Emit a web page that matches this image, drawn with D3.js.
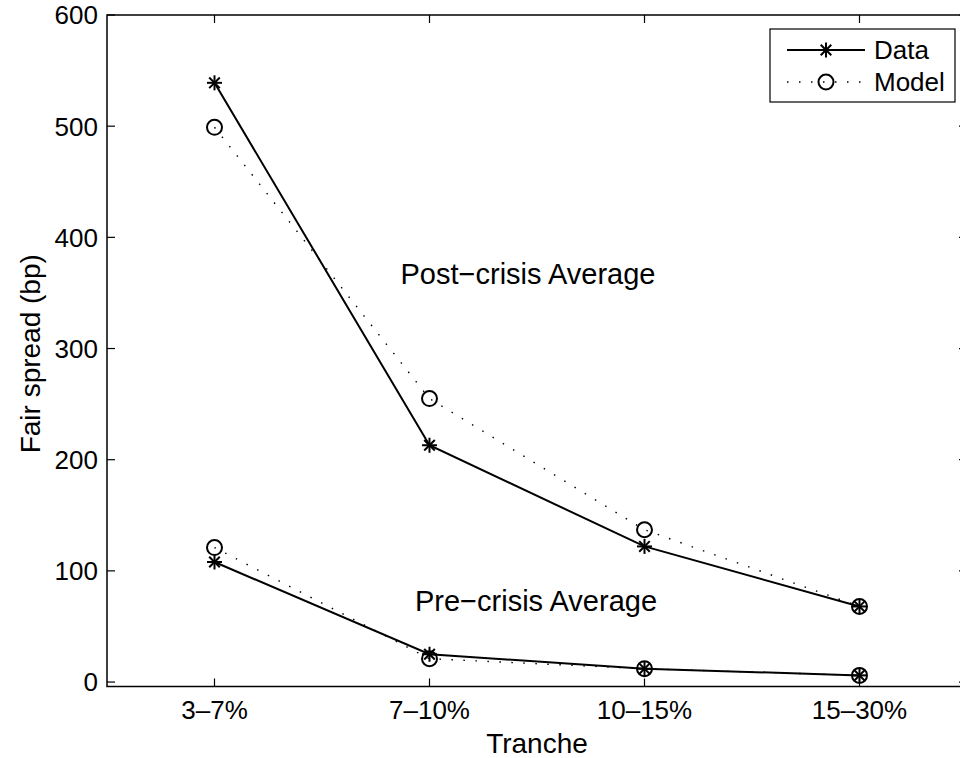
<!DOCTYPE html>
<html>
<head>
<meta charset="utf-8">
<script src="https://cdn.jsdelivr.net/npm/d3@7/dist/d3.min.js"></script>
<style>
  html, body { margin: 0; padding: 0; background: #fff; }
  svg { display: block; font-family: "Liberation Sans", Arial, Helvetica, sans-serif; }
</style>
</head>
<body>
<svg id="chart" width="960" height="758"></svg>
<script>
// Tranche categories and fair spreads (bp)
const tranches = ["3\u20137%", "7\u201310%", "10\u201315%", "15\u201330%"];
const postData  = [539, 213, 122, 68];
const postModel = [499, 255, 137, 68];
const preData   = [108, 25, 12, 6];
const preModel  = [121, 21, 12, 6];
const yTicks = [0, 100, 200, 300, 400, 500, 600];

const svg = d3.select("#chart");
const axL = 107, axR = 967, axT = 15, axB = 686.5;

const x = d3.scaleLinear().domain([0.5, 4.5]).range([axL, axR]);
const y = d3.scaleLinear().domain([-4, 600]).range([axB, axT]);
const tickFs = 26, labelFs = 28, noteFs = 29, legendFs = 26;

// axes box
svg.append("rect")
  .attr("x", axL).attr("y", axT)
  .attr("width", axR - axL).attr("height", axB - axT)
  .attr("fill", "none").attr("stroke", "#000").attr("stroke-width", 1.5);

// inward ticks on all four sides
const tickLen = 8;
const g = svg.append("g").attr("stroke", "#000").attr("stroke-width", 1.2);
tranches.forEach((t, i) => {
  const px = x(i + 1);
  g.append("line").attr("x1", px).attr("x2", px).attr("y1", axB).attr("y2", axB - tickLen);
  g.append("line").attr("x1", px).attr("x2", px).attr("y1", axT).attr("y2", axT + tickLen);
});
yTicks.forEach(v => {
  const py = y(v);
  g.append("line").attr("x1", axL).attr("x2", axL + tickLen).attr("y1", py).attr("y2", py);
  g.append("line").attr("x1", axR).attr("x2", axR - tickLen).attr("y1", py).attr("y2", py);
});

// tick labels
svg.append("g").selectAll("text").data(yTicks).join("text")
  .attr("x", axL - 9).attr("y", d => y(d)).attr("dy", "0.36em")
  .attr("text-anchor", "end").attr("font-size", tickFs).text(d => d);
svg.append("g").selectAll("text").data(tranches).join("text")
  .attr("x", (d, i) => x(i + 1)).attr("y", axB + 32)
  .attr("text-anchor", "middle").attr("font-size", tickFs).text(d => d);

// axis titles
svg.append("text").attr("x", x(2.5)).attr("y", 753)
  .attr("text-anchor", "middle").attr("font-size", labelFs).text("Tranche");
svg.append("text").attr("transform", `translate(40,${(axT + axB) / 2 + 3}) rotate(-90)`)
  .attr("text-anchor", "middle").attr("font-size", labelFs).text("Fair spread (bp)");

// series
const line = d3.line().x((d, i) => x(i + 1)).y(d => y(d));

function star(sel, cx, cy, r) {
  const s = sel.append("g").attr("stroke", "#000").attr("stroke-width", 2);
  [0, 45, 90, 135].forEach(a => {
    const rad = a * Math.PI / 180, dx = r * Math.cos(rad), dy = r * Math.sin(rad);
    s.append("line").attr("x1", cx - dx).attr("y1", cy - dy).attr("x2", cx + dx).attr("y2", cy + dy);
  });
}
function circ(sel, cx, cy) {
  sel.append("circle").attr("cx", cx).attr("cy", cy).attr("r", 7.5)
    .attr("fill", "none").attr("stroke", "#000").attr("stroke-width", 2);
}

const dots = "1.5 10.5";
const plot = svg.append("g");
[postModel, preModel].forEach(s => {
  plot.append("path").attr("d", line(s)).attr("fill", "none")
    .attr("stroke", "#000").attr("stroke-width", 1.4).attr("stroke-dasharray", dots);
});
[postData, preData].forEach(s => {
  plot.append("path").attr("d", line(s)).attr("fill", "none")
    .attr("stroke", "#000").attr("stroke-width", 2);
});
[postModel, preModel].forEach(s => s.forEach((v, i) => circ(plot, x(i + 1), y(v))));
[postData, preData].forEach(s => s.forEach((v, i) => star(plot, x(i + 1), y(v), 7.5)));

// annotations
svg.append("text").attr("x", 528).attr("y", 284).attr("text-anchor", "middle")
  .attr("font-size", noteFs).text("Post\u2212crisis Average");
svg.append("text").attr("x", 536).attr("y", 611).attr("text-anchor", "middle")
  .attr("font-size", noteFs).text("Pre\u2212crisis Average");

// legend
const lg = svg.append("g");
lg.append("rect").attr("x", 770).attr("y", 29).attr("width", 185).attr("height", 73)
  .attr("fill", "#fff").attr("stroke", "#000").attr("stroke-width", 1.2);
lg.append("line").attr("x1", 787).attr("x2", 865).attr("y1", 50).attr("y2", 50)
  .attr("stroke", "#000").attr("stroke-width", 2);
star(lg, 826, 50, 7.5);
lg.append("line").attr("x1", 787).attr("x2", 865).attr("y1", 82).attr("y2", 82)
  .attr("stroke", "#000").attr("stroke-width", 1.4).attr("stroke-dasharray", dots);
circ(lg, 826, 82);
lg.append("text").attr("x", 874).attr("y", 50).attr("dy", "0.36em").attr("font-size", legendFs).text("Data");
lg.append("text").attr("x", 874).attr("y", 82).attr("dy", "0.36em").attr("font-size", legendFs).text("Model");
</script>
</body>
</html>
